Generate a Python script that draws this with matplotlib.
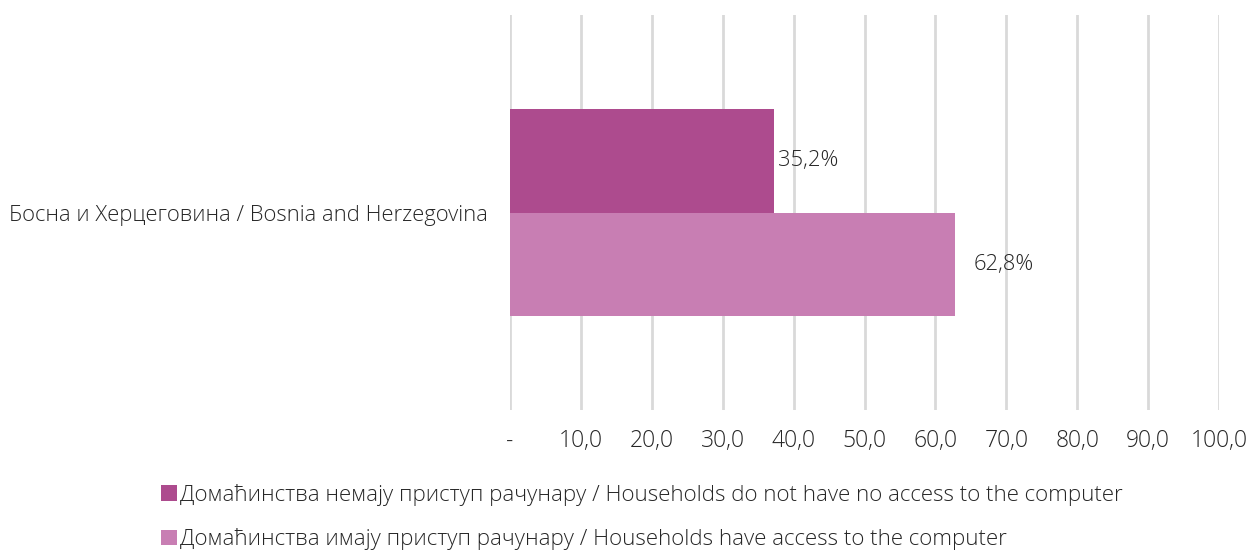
import matplotlib
matplotlib.use("Agg")
import matplotlib.pyplot as plt
from matplotlib.patches import Patch

# Data
category = "Босна и Херцеговина / Bosnia and Herzegovina"
series_names = [
    "Домаћинства немају приступ рачунару / Households do not have no access to the computer",
    "Домаћинства имају приступ рачунару / Households have access to the computer",
]
bar_values = [37.2, 62.8]          # bar lengths as drawn
label_values = [35.2, 62.8]        # values printed as data labels
colors = ["#AD4B8E", "#C87EB3"]
xticks = [0, 10, 20, 30, 40, 50, 60, 70, 80, 90, 100]
xtick_labels = ["-", "10,0", "20,0", "30,0", "40,0", "50,0", "60,0", "70,0", "80,0", "90,0", "100,0"]

plt.rcParams["font.family"] = ["Open Sans", "DejaVu Sans"]
plt.rcParams["font.weight"] = "light"
text_color = "#262626"
fs = 15.8

fig = plt.figure(figsize=(12.5, 5.52), dpi=100)
ax = fig.add_axes([510 / 1250, 1 - 410 / 552, (1219 - 510) / 1250, (410 - 15) / 552])

ypos = [0.5, -0.5]
for y, v, c in zip(ypos, bar_values, colors):
    ax.barh(y, v, height=1.0, color=c, zorder=2)
for y, lv in zip(ypos, label_values):
    ax.annotate(f"{lv:.1f}".replace(".", ",") + "%", xy=(lv, y), xytext=(13, 0),
                textcoords="offset points", va="center", ha="left",
                fontsize=fs, color=text_color, fontweight="light")

ax.set_xlim(0, 100)
ax.set_ylim(-1.91, 1.91)
ax.set_xticks(xticks)
ax.set_xticklabels(xtick_labels, fontsize=16.5, color=text_color, fontweight="light")
ax.tick_params(axis="x", length=0, pad=14)
ax.set_yticks([0])
ax.set_yticklabels([category], fontsize=15.85, color=text_color, fontweight="light")
ax.tick_params(axis="y", length=0, pad=16)
ax.grid(axis="x", color="#D9D9D9", linewidth=2, zorder=0)
ax.set_axisbelow(True)
for s in ax.spines.values():
    s.set_visible(False)

handles = [Patch(facecolor=c, edgecolor="none") for c in colors]
leg = fig.legend(handles, series_names, loc="upper left",
                 bbox_to_anchor=(161 / 1250, 1 - 484 / 552), frameon=False,
                 prop={"size": 16.0, "weight": "light"}, handlelength=0.7, handleheight=0.7,
                 handletextpad=0.15, labelspacing=1.0, borderaxespad=0,
                 borderpad=0)
for t in leg.get_texts():
    t.set_color(text_color)

fig.savefig("out.png", dpi=100)
